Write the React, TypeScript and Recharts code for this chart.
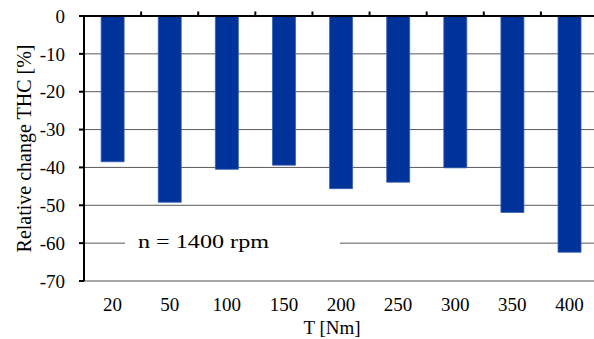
import React from 'react';
import { BarChart, Bar, XAxis, YAxis, CartesianGrid, ReferenceLine } from 'recharts';

const categories = ['20', '50', '100', '150', '200', '250', '300', '350', '400'];
const thcChange = [-38.5, -49.2, -40.5, -39.4, -45.6, -43.9, -40.1, -51.9, -62.4];
const yTicks = [0, -10, -20, -30, -40, -50, -60, -70];

const data = categories.map((c, i) => ({ T: c, thc: thcChange[i] }));

const FONT = '"Liberation Serif", "Times New Roman", serif';
const PLOT_TOP = 16;

const YTitle = (props: any) => {
  const vb = props.viewBox || {};
  const cx = 31;
  const cy = vb.y + vb.height / 2;
  return (
    <text
      transform={`translate(${cx},${cy}) rotate(-90)`}
      textAnchor="middle"
      style={{ fontFamily: FONT }}
      fontSize={20}
      fill="#000"
    >
      Relative change THC [%]
    </text>
  );
};

// X-axis title; also draws the category-boundary tick marks on the top (0) line
const XTitle = (props: any) => {
  const vb = props.viewBox || {};
  const n = categories.length;
  const step = vb.width / n;
  const ticks = [];
  for (let i = 1; i < n; i++) {
    const bx = vb.x + i * step;
    ticks.push(
      <line key={i} x1={bx} y1={PLOT_TOP} x2={bx} y2={PLOT_TOP - 4.5} stroke="#000" strokeWidth={2} />
    );
  }
  return (
    <g>
      {ticks}
      <text
        x={vb.x + vb.width / 2 - 9}
        y={vb.y + vb.height - 5}
        textAnchor="middle"
        style={{ fontFamily: FONT }}
        fontSize={19}
        fill="#000"
      >
        T [Nm]
      </text>
    </g>
  );
};

const Annotation = (props: any) => {
  const vb = props.viewBox || {};
  const x0 = vb.x;
  const y0 = vb.y;
  return (
    <g>
      <rect x={x0 + 41} y={y0 - 15} width={215} height={30} fill="#fff" />
      <text
        x={x0 + 54}
        y={y0 + 5}
        style={{ fontFamily: FONT }}
        fontSize={19}
        fill="#000"
        textLength={131}
        lengthAdjust="spacingAndGlyphs"
      >
        n = 1400 rpm
      </text>
    </g>
  );
};

export default function App() {
  return (
    <div style={{ position: 'absolute', left: 0, top: 0, width: 594, height: 339, overflow: 'hidden', background: '#fff' }}>
      <BarChart
        width={598}
        height={339}
        data={data}
        margin={{ top: PLOT_TOP, right: 0, bottom: 0, left: 0 }}
        barCategoryGap="30%"
        style={{ overflow: 'visible' }}
      >
        <CartesianGrid vertical={false} stroke="#595959" strokeWidth={1} />
        <XAxis
          dataKey="T"
          height={58}
          tickLine={false}
          tickSize={0}
          tickMargin={17}
          axisLine={{ stroke: '#a6a6a6', strokeWidth: 1.5 }}
          tick={{ fontFamily: FONT, fontSize: 19, fill: '#000' }}
          interval={0}
          label={<XTitle />}
        />
        <YAxis
          width={84}
          domain={[-70, 0]}
          ticks={yTicks}
          interval={0}
          tickSize={5}
          tickMargin={14}
          tickLine={{ stroke: '#000', strokeWidth: 2 }}
          axisLine={{ stroke: '#000', strokeWidth: 2 }}
          tick={{ fontFamily: FONT, fontSize: 19, fill: '#000' }}
          label={<YTitle />}
        />
        <Bar dataKey="thc" fill="#003399" stroke="#3a5fb0" strokeWidth={0.8} isAnimationActive={false} />
        <ReferenceLine y={0} stroke="#000" strokeWidth={2} />
        <ReferenceLine y={-60} stroke="none" label={<Annotation />} />
      </BarChart>
    </div>
  );
}
